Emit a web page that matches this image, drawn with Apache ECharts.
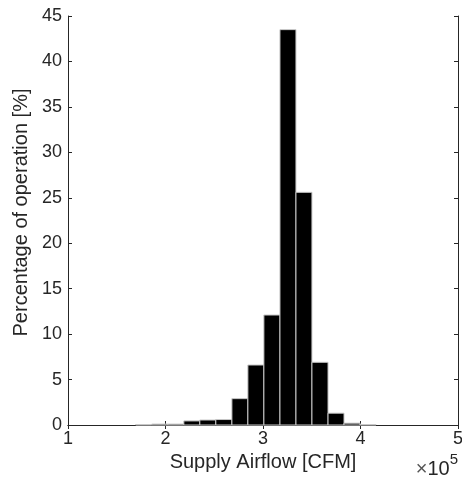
<!DOCTYPE html>
<html>
<head>
<meta charset="utf-8">
<script src="https://cdn.jsdelivr.net/npm/echarts@6/dist/echarts.min.js"></script>
<style>
  html, body { margin: 0; padding: 0; background: #fff; }
  #chart { width: 462px; height: 477px; }
</style>
</head>
<body>
<div id="chart"></div>
<script>
// Histogram of supply airflow (values in units of 1e5 CFM)
const binEdges = [1.695, 1.859, 2.024, 2.188, 2.352, 2.516, 2.681, 2.845, 3.009,
                  3.174, 3.338, 3.502, 3.667, 3.831, 3.995, 4.159];
const percentOfOperation = [0.05, 0.1, 0.1, 0.45, 0.55, 0.6, 2.9, 6.6, 12.1,
                            43.5, 25.6, 6.9, 1.3, 0.2, 0.05];
const xTicks = [1, 2, 3, 4, 5];
const yTicks = [0, 5, 10, 15, 20, 25, 30, 35, 40, 45];

const xTitle = 'Supply Airflow [CFM]';
const yTitle = 'Percentage of operation [%]';

const ink = '#262626';
const font = '"Liberation Sans", Arial, Helvetica, sans-serif';

const bars = percentOfOperation.map((v, i) => [binEdges[i], binEdges[i + 1], v]);

const chart = echarts.init(document.getElementById('chart'), null, { renderer: 'canvas' });

function axisCommon(extra) {
  return Object.assign({
    type: 'value',
    axisLine: { show: true, lineStyle: { color: ink, width: 1 } },
    axisTick: { show: true, inside: true, length: 4, lineStyle: { color: ink } },
    splitLine: { show: false },
    axisLabel: { color: ink, fontFamily: font, fontSize: 18 }
  }, extra);
}

chart.setOption({
  animation: false,
  backgroundColor: '#fff',
  grid: { left: 68, right: 4, top: 16, bottom: 52, outerBoundsMode: 'none', containLabel: false },
  xAxis: [
    axisCommon({
      min: xTicks[0], max: xTicks[xTicks.length - 1], interval: 1,
      name: xTitle, nameLocation: 'middle', nameGap: 26,
      nameTextStyle: { color: ink, fontFamily: font, fontSize: 20 },
      axisLabel: { color: ink, fontFamily: font, fontSize: 18, margin: 5, showMaxLabel: true }
    }),
    axisCommon({
      position: 'top',
      min: xTicks[0], max: xTicks[xTicks.length - 1], interval: 1,
      axisLabel: { show: false }
    })
  ],
  yAxis: [
    axisCommon({
      min: yTicks[0], max: yTicks[yTicks.length - 1], interval: 5,
      name: yTitle, nameLocation: 'middle', nameGap: 35,
      nameTextStyle: { color: ink, fontFamily: font, fontSize: 20, padding: [0, 0, 0, 16] },
      axisLabel: { color: ink, fontFamily: font, fontSize: 18, margin: 6 }
    }),
    axisCommon({
      position: 'right',
      min: yTicks[0], max: yTicks[yTicks.length - 1], interval: 5,
      axisLabel: { show: false }
    })
  ],
  series: [{
    type: 'custom',
    xAxisIndex: 0,
    yAxisIndex: 0,
    data: bars,
    encode: { x: [0, 1], y: 2 },
    renderItem: function (params, api) {
      const p0 = api.coord([api.value(0), 0]);
      const p1 = api.coord([api.value(1), api.value(2)]);
      return {
        type: 'rect',
        shape: { x: p0[0], y: p1[1], width: p1[0] - p0[0], height: p0[1] - p1[1] },
        style: { fill: '#000', stroke: '#c8c8c8', lineWidth: 1 }
      };
    }
  }],
  graphic: [{
    type: 'text',
    right: 4,
    bottom: -2,
    style: {
      text: '{x|\u00d7}{m|10}{s|5}',
      fill: ink,
      rich: {
        x: { fontFamily: font, fontSize: 20, fill: '#555', verticalAlign: 'bottom' },
        m: { fontFamily: font, fontSize: 20, fill: ink, verticalAlign: 'bottom' },
        s: { fontFamily: font, fontSize: 15, fill: ink, verticalAlign: 'top', padding: [0, 0, 12, 0] }
      }
    }
  }]
});
</script>
</body>
</html>
